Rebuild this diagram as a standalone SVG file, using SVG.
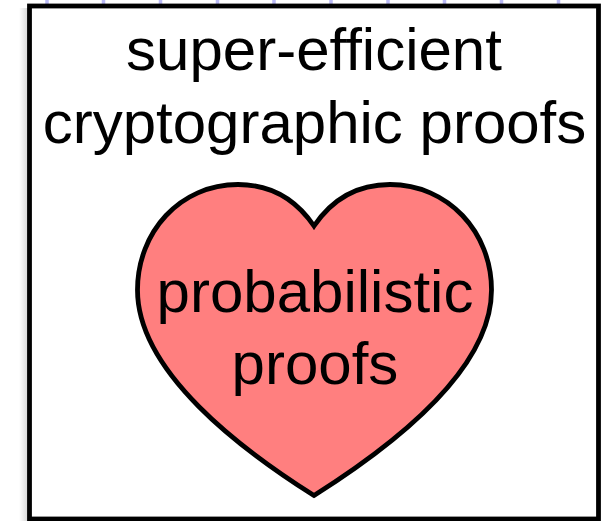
<svg xmlns="http://www.w3.org/2000/svg" width="601" height="521" viewBox="0 0 601 521">
<style>
text{font-family:"Liberation Sans",Arial,sans-serif;font-size:60px;fill:#000;text-anchor:middle}
.tick{stroke:#b9b9f5;stroke-width:3.500}
</style>
<defs><linearGradient id="shade"><stop offset="0" stop-color="#fff"/><stop offset="1" stop-color="#d6d6d6"/></linearGradient></defs>
<rect width="601" height="521" fill="#fff"/>
<rect x="19" y="8" width="9" height="513" fill="url(#shade)"/>
<g id="ticks"><path class="tick" d="M47 0v4M103.500 0v4M160.500 0v4M217.500 0v4M274 0v4M331 0v4M388 0v4M444.500 0v4M501.500 0v4M558.500 0v4"/></g>
<g id="box"><rect x="29.500" y="6" width="569" height="513" fill="#fff" stroke="#000" stroke-width="4.800"/>
<text x="314" y="70">super-efficient</text>
<text x="314.500" y="143">cryptographic proofs</text></g>
<g id="heart"><path d="M314 226C295 198 270 184.500 238 184.500C180 184.500 137.500 232 137.500 290C137.500 372 242 450 314 495.500C386 450 491.500 372 491.500 290C491.500 232 448 184.500 390 184.500C358 184.500 333 198 314 226Z" fill="#ff7f7f" stroke="#000" stroke-width="4.800" stroke-linejoin="miter"/>
<text x="315" y="312">probabilistic</text>
<text x="315" y="384">proofs</text></g>
<g id="connectors"></g>
</svg>
